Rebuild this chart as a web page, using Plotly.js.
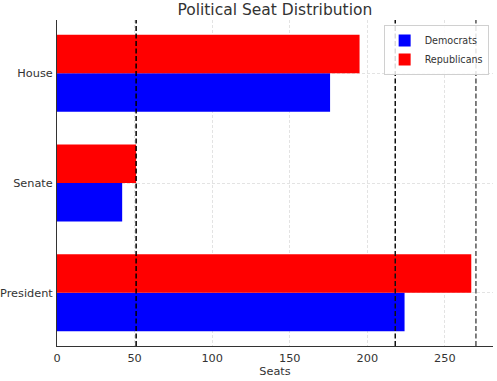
<!DOCTYPE html>
<html>
<head>
<meta charset="utf-8">
<script src="https://cdn.plot.ly/plotly-3.0.1.min.js"></script>
<style>html,body{margin:0;padding:0;background:#fff;}#chart{width:497px;height:381px;}</style>
</head>
<body>
<div id="chart"></div>
<script>
const categories = ["President", "Senate", "House"];
const democrats = [224, 42, 176];
const republicans = [267, 51, 195];
const thresholds = [51, 218, 270];
const thresholdColors = ["#000000", "#111111", "#555555"];
const xTicks = [0, 50, 100, 150, 200, 250];

const catPos = categories.map((c, i) => i);
const font = "DejaVu Sans, sans-serif";

const traces = [
  {type: "bar", orientation: "h", name: "Democrats", x: democrats, y: catPos,
   marker: {color: "#0000ff"}, hoverinfo: "x+name"},
  {type: "bar", orientation: "h", name: "Republicans", x: republicans, y: catPos,
   marker: {color: "#ff0000"}, hoverinfo: "x+name"}
];

const shapes = thresholds.map((t, i) => ({
  type: "line", xref: "x", yref: "paper", x0: t, x1: t, y0: 0, y1: 1,
  line: {color: thresholdColors[i], width: 1.5, dash: "5px,2.5px"}, layer: "above"
}));

const layout = {
  width: 497, height: 381,
  margin: {l: 57, r: 4, t: 20, b: 35},
  paper_bgcolor: "#ffffff", plot_bgcolor: "#ffffff",
  font: {family: font, size: 11.3, color: "#333333"},
  title: {text: "Political Seat Distribution", font: {family: font, size: 15.5, color: "#333333"},
          x: 0.553, xanchor: "center", y: 0.99, yanchor: "top"},
  barmode: "group", bargap: 0.3, bargroupgap: 0,
  showlegend: true,
  legend: {x: 0.99, xanchor: "right", y: 0.985, yanchor: "top", traceorder: "normal",
           bgcolor: "rgba(255,255,255,0.85)", bordercolor: "#d0d0d0", borderwidth: 1,
           font: {family: font, size: 9.6, color: "#333333"}, tracegroupgap: 0, itemwidth: 30},
  xaxis: {range: [0, 281], tickvals: xTicks, ticktext: xTicks.map(String),
          showgrid: true, gridcolor: "#dcdcdc", griddash: "3px,2px", gridwidth: 0.8,
          zeroline: false, showline: true, linecolor: "#333333", linewidth: 1,
          ticks: "", ticklabelstandoff: 1,
          title: {text: "Seats", font: {family: font, size: 11.3, color: "#333333"}, standoff: 3}},
  yaxis: {range: [-0.485, 2.485], tickvals: catPos, ticktext: categories,
          showgrid: true, gridcolor: "#dcdcdc", griddash: "3px,2px", gridwidth: 0.8,
          zeroline: false, showline: true, linecolor: "#333333", linewidth: 1,
          ticks: "", ticklabelstandoff: 1},
  shapes: shapes
};

Plotly.newPlot("chart", traces, layout, {displayModeBar: false, staticPlot: true});
</script>
</body>
</html>
